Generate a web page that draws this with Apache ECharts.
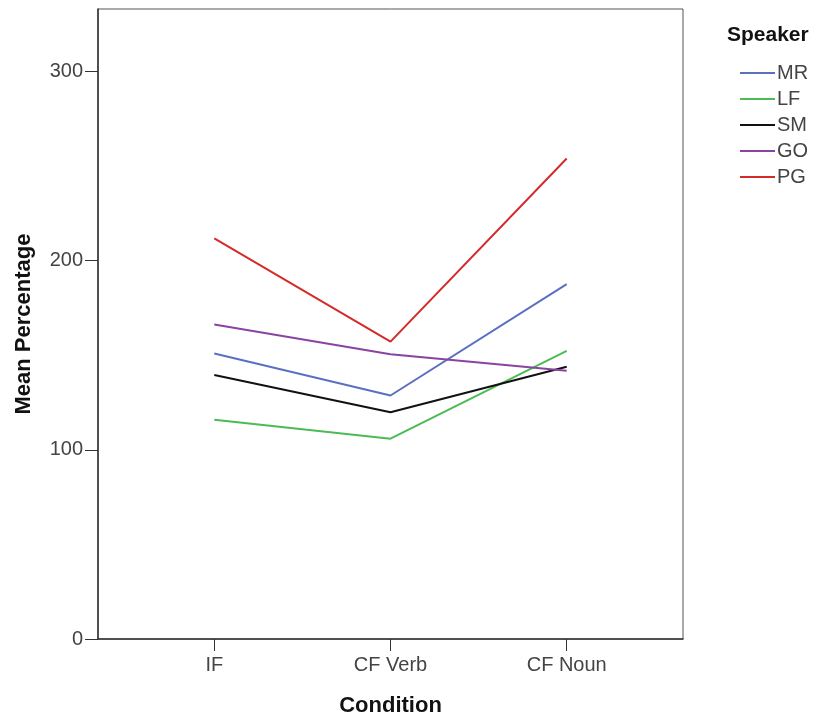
<!DOCTYPE html>
<html>
<head>
<meta charset="utf-8">
<script src="https://cdn.jsdelivr.net/npm/echarts@6/dist/echarts.min.js"></script>
<style>
  html, body { margin: 0; padding: 0; background: #fff; }
  #chart { width: 824px; height: 722px; }
</style>
</head>
<body>
<div id="chart"></div>
<script>
// categories on the x axis
const conditions = ['IF', 'CF Verb', 'CF Noun'];
// mean percentage per speaker
const speakers = ['MR', 'LF', 'SM', 'GO', 'PG'];
const MR = [150.9, 128.7, 187.6];
const LF = [115.9, 105.9, 152.3];
const SM = [139.5, 119.9, 143.9];
const GO = [166.2, 150.5, 141.8];
const PG = [211.7, 157.2, 254.0];
const yTicks = [0, 100, 200, 300];

const colors = ['#5a6fc2', '#4cbb55', '#111111', '#8a43a3', '#d42a2a'];
const values = [MR, LF, SM, GO, PG];
const font = 'Liberation Sans, Arial, sans-serif';

const myChart = echarts.init(document.getElementById('chart'));

const option = {
  animation: false,
  title: {
    text: 'Speaker',
    left: 722,
    top: 20,
    textStyle: { fontFamily: font, fontSize: 21, fontWeight: 'bold', color: '#111' }
  },
  legend: {
    orient: 'vertical',
    left: 735,
    top: 58,
    icon: 'rect',
    itemWidth: 35,
    itemHeight: 2,
    itemGap: 6,
    data: speakers,
    textStyle: { fontFamily: font, fontSize: 20, color: '#444', lineHeight: 20, padding: [0, 0, 0, -3] }
  },
  grid: {
    left: 98, top: 9, right: 141, bottom: 78,
    show: true,
    borderColor: '#555',
    borderWidth: 1
  },
  xAxis: {
    type: 'value',
    min: -0.66,
    max: 2.66,
    name: 'Condition',
    nameLocation: 'middle',
    nameGap: 56,
    nameTextStyle: { fontFamily: font, fontSize: 22, fontWeight: 'bold', color: '#111' },
    axisLine: { onZero: false, lineStyle: { color: '#333', width: 1.5 } },
    axisTick: { show: true, length: 12, customValues: [0, 1, 2], lineStyle: { color: '#333' } },
    axisLabel: {
      customValues: [0, 1, 2],
      margin: 16,
      fontFamily: font, fontSize: 20, color: '#444',
      formatter: function (v) { return conditions[Math.round(v)]; }
    },
    splitLine: { show: false }
  },
  yAxis: {
    type: 'value',
    min: 0,
    max: 333,
    name: 'Mean Percentage',
    nameLocation: 'middle',
    nameGap: 63,
    nameTextStyle: { fontFamily: font, fontSize: 22, fontWeight: 'bold', color: '#111' },
    axisLine: { show: true, onZero: false, lineStyle: { color: '#333', width: 1.5 } },
    axisTick: { show: true, length: 13, customValues: yTicks, lineStyle: { color: '#333' } },
    axisLabel: { customValues: yTicks, margin: 15, fontFamily: font, fontSize: 20, color: '#444' },
    splitLine: { show: false }
  },
  series: speakers.map(function (name, k) {
    return {
      name: name,
      type: 'line',
      symbol: 'none',
      color: colors[k],
      lineStyle: { width: 2, color: colors[k] },
      data: values[k].map(function (v, i) { return [i, v]; })
    };
  })
};

myChart.setOption(option);
window.addEventListener('resize', function () {
  myChart.resize();
});
</script>
</body>
</html>
